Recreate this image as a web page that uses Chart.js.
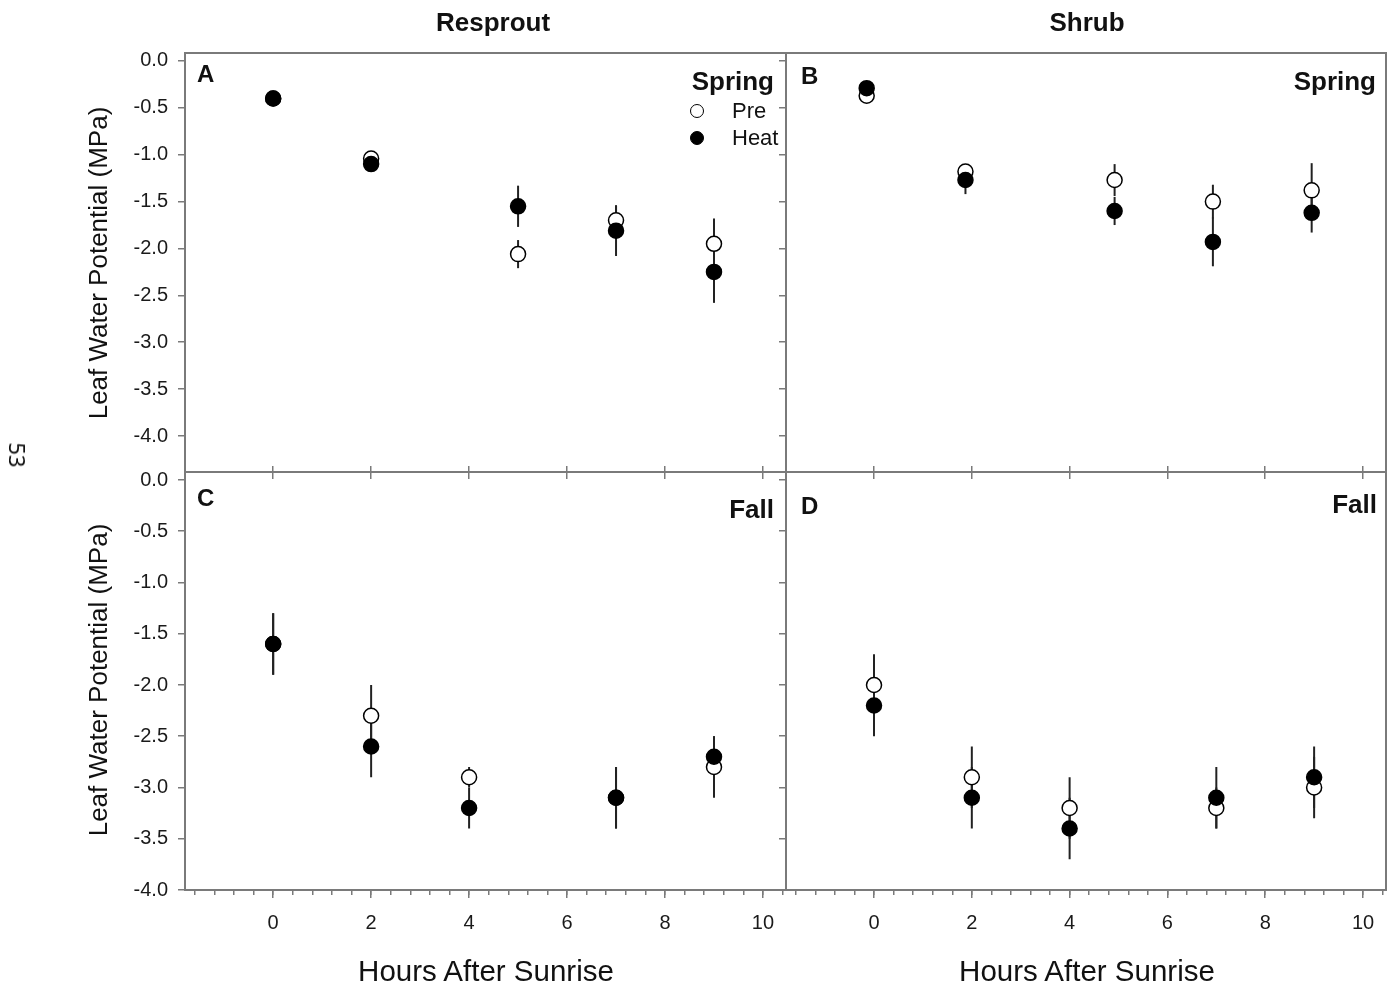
<!DOCTYPE html>
<html>
<head>
<meta charset="utf-8">
<script src="https://cdn.jsdelivr.net/npm/chart.js@4.4.0/dist/chart.umd.min.js"></script>
<style>
    body { margin: 0; background: #fff; font-family: "Liberation Sans", Arial, sans-serif; color: #111; }
    #page { position: relative; width: 1388px; height: 992px; overflow: hidden; background: #fff; }
    #page canvas { position: absolute; left: 0; top: 0; }
    .txt { position: absolute; white-space: nowrap; transform: translate(-50%, -50%); }
    .bold { font-weight: bold; }
    .rot { transform: translate(-50%, -50%) rotate(-90deg); }
    .right { transform: translate(-100%, -50%); }
    .left { transform: translate(0, -50%); }
    .dot { position: absolute; width: 12px; height: 12px; border-radius: 50%; border: 1.5px solid #000; transform: translate(-50%, -50%); }
</style>
</head>
<body>
<div id="page">
    <canvas id="chartA" width="1388" height="992"></canvas>
    <canvas id="chartB" width="1388" height="992"></canvas>
    <canvas id="chartC" width="1388" height="992"></canvas>
    <canvas id="chartD" width="1388" height="992"></canvas>

    <div class="txt bold" style="left:493px; top:22px; font-size:26px;">Resprout</div>
    <div class="txt bold" style="left:1087px; top:22px; font-size:26px;">Shrub</div>

    <div class="txt rot" style="left:98px; top:263px; font-size:26px;">Leaf Water Potential (MPa)</div>
    <div class="txt rot" style="left:98px; top:680px; font-size:26px;">Leaf Water Potential (MPa)</div>
    <div class="txt" style="left:18px; top:455px; font-size:22px; font-family:'Noto Sans', sans-serif; transform: translate(-50%, -50%) rotate(90deg);">53</div>

    <div class="txt" style="left:486px; top:971px; font-size:29.5px;">Hours After Sunrise</div>
    <div class="txt" style="left:1087px; top:971px; font-size:29.5px;">Hours After Sunrise</div>

    <div class="txt bold left" style="left:197px; top:74px; font-size:24px;">A</div>
    <div class="txt bold left" style="left:801px; top:76px; font-size:24px;">B</div>
    <div class="txt bold left" style="left:197px; top:498px; font-size:24px;">C</div>
    <div class="txt bold left" style="left:801px; top:506px; font-size:24px;">D</div>

    <div class="txt bold right" style="left:774px; top:81px; font-size:26px;">Spring</div>
    <div class="txt bold right" style="left:1376px; top:81px; font-size:26px;">Spring</div>
    <div class="txt bold right" style="left:774px; top:509px; font-size:26px;">Fall</div>
    <div class="txt bold right" style="left:1377px; top:504px; font-size:26px;">Fall</div>

    <div class="dot" style="left:697px; top:111px; background:#fff;"></div>
    <div class="txt left" style="left:732px; top:111px; font-size:22px;">Pre</div>
    <div class="dot" style="left:697px; top:138px; background:#000;"></div>
    <div class="txt left" style="left:732px; top:138px; font-size:22px;">Heat</div>
</div>

<script>
// A - Resprout, Spring
const hoursA = [0, 2, 5, 7, 9];
const preA = [-0.40, -1.04, -2.06, -1.70, -1.95];
const preErrA = [0.03, 0.07, 0.15, 0.16, 0.27];
const heatA = [-0.40, -1.10, -1.55, -1.81, -2.25];
const heatErrA = [0.03, 0.04, 0.22, 0.27, 0.33];

// B - Shrub, Spring
const hoursB = [-0.15, 1.87, 4.92, 6.93, 8.95];
const preB = [-0.37, -1.18, -1.27, -1.50, -1.38];
const preErrB = [0.03, 0.07, 0.17, 0.18, 0.29];
const heatB = [-0.29, -1.27, -1.60, -1.93, -1.62];
const heatErrB = [0.03, 0.15, 0.15, 0.26, 0.21];

// C - Resprout, Fall
const hoursC = [0, 2, 4, 7, 9];
const preC = [-1.6, -2.3, -2.9, -3.1, -2.8];
const preErrC = [0.3, 0.3, 0.1, 0.3, 0.3];
const heatC = [-1.6, -2.6, -3.2, -3.1, -2.7];
const heatErrC = [0.3, 0.3, 0.2, 0.3, 0.2];

// D - Shrub, Fall
const hoursD = [0, 2, 4, 7, 9];
const preD = [-2.0, -2.9, -3.2, -3.2, -3.0];
const preErrD = [0.3, 0.3, 0.3, 0.2, 0.3];
const heatD = [-2.2, -3.1, -3.4, -3.1, -2.9];
const heatErrD = [0.3, 0.3, 0.3, 0.3, 0.3];

const xMin = -1.8;
const xMax = 10.47;
const axisColor = '#7a7a7a';
const textColor = '#1a1a1a';

Chart.defaults.font.family = '"Liberation Sans", Arial, sans-serif';
Chart.defaults.color = textColor;

// error bars + frame round the plot area
const errorBars = {
    id: 'errorBars',
    beforeDatasetsDraw(chart) {
        const ctx = chart.ctx;
        const xs = chart.scales.x;
        const ys = chart.scales.y;
        const a = chart.chartArea;
        ctx.save();
        ctx.strokeStyle = '#222';
        ctx.lineWidth = 2;
        chart.data.datasets.forEach(ds => {
            ds.data.forEach((p, i) => {
                const e = ds.errors[i];
                const px = xs.getPixelForValue(p.x);
                ctx.beginPath();
                ctx.moveTo(px, ys.getPixelForValue(p.y + e));
                ctx.lineTo(px, ys.getPixelForValue(p.y - e));
                ctx.stroke();
            });
        });
        ctx.strokeStyle = axisColor;
        ctx.lineWidth = 2;
        ctx.strokeRect(a.left, a.top, a.right - a.left, a.bottom - a.top);
        ctx.restore();
    }
};

function makeConfig(hours, pre, preErr, heat, heatErr, p) {
    const scales = {
        x: {
            type: 'linear', position: 'bottom', weight: 1,
            min: xMin, max: xMax,
            ticks: {
                stepSize: 2, includeBounds: false, autoSkip: false, maxRotation: 0,
                display: p.xLabels, padding: 13, font: { size: 20 },
                callback: v => v
            },
            grid: { drawOnChartArea: false, tickLength: p.xLabels ? 8 : 7, color: axisColor, lineWidth: 1.5 },
            border: { display: false },
            afterFit: s => { s.height = p.xLabels ? 60 : 8; s.paddingLeft = 0; s.paddingRight = 0; }
        },
        y: {
            type: 'linear', position: 'left',
            min: p.yMin, max: p.yMax,
            ticks: {
                stepSize: 0.5, includeBounds: false, autoSkip: false, padding: 10, font: { size: 20 },
                callback: v => p.yLabels ? Number(v).toFixed(1) : ''
            },
            grid: { drawOnChartArea: false, tickLength: 7, color: axisColor, lineWidth: 1.5 },
            border: { display: false },
            afterFit: s => { s.width = 70; s.paddingTop = 0; s.paddingBottom = 0; }
        }
    };
    if (p.xLabels) {
        // minor ticks under the bottom row
        scales.xMinor = {
            type: 'linear', position: 'bottom', weight: 0,
            min: xMin, max: xMax,
            ticks: { stepSize: 0.4, includeBounds: false, autoSkip: false, display: false },
            grid: { drawOnChartArea: false, tickLength: 5, color: axisColor, lineWidth: 1.5 },
            border: { display: false },
            afterFit: s => { s.height = 0; s.paddingLeft = 0; s.paddingRight = 0; }
        };
        scales.xTop = {
            type: 'linear', position: 'top',
            min: xMin, max: xMax,
            ticks: { stepSize: 2, includeBounds: false, autoSkip: false, display: false },
            grid: { drawOnChartArea: false, tickLength: 6, color: axisColor, lineWidth: 1.5 },
            border: { display: false },
            afterFit: s => { s.height = 0; s.paddingLeft = 0; s.paddingRight = 0; }
        };
    }
    return {
        type: 'scatter',
        data: {
            datasets: [{
                label: 'Pre',
                data: hours.map((h, i) => ({ x: h, y: pre[i] })),
                errors: preErr,
                xAxisID: 'x', yAxisID: 'y',
                pointRadius: 7.5,
                pointBackgroundColor: '#fff',
                pointBorderColor: '#000',
                pointBorderWidth: 1.5,
                order: 2
            }, {
                label: 'Heat',
                data: hours.map((h, i) => ({ x: h, y: heat[i] })),
                errors: heatErr,
                xAxisID: 'x', yAxisID: 'y',
                pointRadius: 7.5,
                pointBackgroundColor: '#000',
                pointBorderColor: '#000',
                pointBorderWidth: 1.5,
                order: 1
            }]
        },
        options: {
            responsive: false,
            animation: false,
            devicePixelRatio: 1,
            layout: { padding: p.padding, autoPadding: false },
            plugins: {
                legend: { display: false },
                tooltip: { enabled: false }
            },
            scales: scales
        },
        plugins: [errorBars]
    };
}

// plot areas: left 185-786, right 786-1386, top 53-472, bottom 472-890
const topY = { yMin: -4.384, yMax: 0.085 };
const bottomY = { yMin: -4.0, yMax: 0.078 };

new Chart(document.getElementById('chartA'), makeConfig(hoursA, preA, preErrA, heatA, heatErrA, {
    yMin: topY.yMin, yMax: topY.yMax, yLabels: true, xLabels: false,
    padding: { left: 115, right: 602, top: 53, bottom: 512 }
}));

new Chart(document.getElementById('chartB'), makeConfig(hoursB, preB, preErrB, heatB, heatErrB, {
    yMin: topY.yMin, yMax: topY.yMax, yLabels: false, xLabels: false,
    padding: { left: 716, right: 2, top: 53, bottom: 512 }
}));

new Chart(document.getElementById('chartC'), makeConfig(hoursC, preC, preErrC, heatC, heatErrC, {
    yMin: bottomY.yMin, yMax: bottomY.yMax, yLabels: true, xLabels: true,
    padding: { left: 115, right: 602, top: 472, bottom: 42 }
}));

new Chart(document.getElementById('chartD'), makeConfig(hoursD, preD, preErrD, heatD, heatErrD, {
    yMin: bottomY.yMin, yMax: bottomY.yMax, yLabels: false, xLabels: true,
    padding: { left: 716, right: 2, top: 472, bottom: 42 }
}));
</script>
</body>
</html>
